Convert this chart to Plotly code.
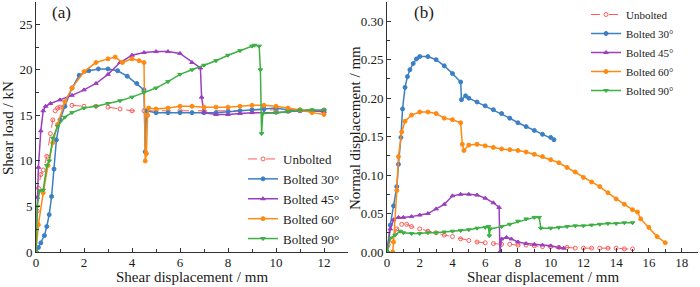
import plotly.graph_objects as go

# ---------------- Panel (a): shear load vs shear displacement ----------------
a_unb_x = [0, 0.05, 0.1, 0.2, 0.3, 0.45, 0.6, 0.7, 0.8, 0.9, 1.0, 1.2, 1.5, 2.0, 2.5, 3.0, 3.5, 4.0, 4.5, 5.0, 6.0, 7.0, 8.0, 9.0, 10.0, 11.0, 12.0]
a_unb_y = [0, 4.5, 7.0, 8.5, 9.0, 10.5, 13.0, 14.5, 15.5, 15.8, 15.9, 16.0, 16.1, 16.0, 16.0, 15.9, 15.7, 15.5, 15.5, 15.5, 15.5, 15.5, 15.5, 15.6, 15.6, 15.6, 15.6]

a_b30_x = [0, 0.1, 0.2, 0.35, 0.45, 0.55, 0.65, 0.75, 0.85, 1.0, 1.2, 1.5, 1.8, 2.2, 2.6, 3.0, 3.4, 3.8, 4.2, 4.5, 4.55, 4.6, 5.0, 5.5, 6.0, 6.5, 7.0, 7.5, 8.0, 8.5, 9.0, 9.5, 10.0, 10.5, 11.0, 11.5, 12.0]
a_b30_y = [0, 0.5, 1.0, 1.8, 2.8, 4.1, 6.1, 9.1, 12.3, 14.5, 16.0, 18.0, 19.4, 19.9, 20.1, 20.1, 19.9, 19.3, 18.5, 17.8, 11.0, 15.5, 15.3, 15.3, 15.3, 15.3, 15.3, 15.3, 15.4, 15.5, 15.6, 15.7, 15.8, 15.6, 15.5, 15.5, 15.5]

a_b45_x = [0, 0.05, 0.1, 0.2, 0.3, 0.4, 0.6, 1.0, 1.5, 2.0, 2.5, 3.0, 3.5, 4.0, 4.5, 5.0, 5.5, 6.0, 6.5, 6.85, 6.9, 7.0, 7.5, 8.0, 8.5, 9.0, 9.5, 10.0, 10.5, 11.0, 11.5, 12.0]
a_b45_y = [0, 6.0, 9.3, 13.3, 15.5, 16.0, 16.3, 16.7, 17.2, 17.8, 18.5, 19.5, 20.8, 21.6, 21.9, 22.0, 22.0, 21.8, 20.8, 20.2, 17.0, 15.3, 15.1, 15.1, 15.2, 15.3, 15.3, 15.3, 15.4, 15.5, 15.5, 15.4]

a_b60_x = [0, 0.1, 0.3, 0.5, 0.7, 0.9, 1.2, 1.5, 2.0, 2.5, 3.0, 3.3, 3.6, 4.0, 4.3, 4.5, 4.55, 4.6, 4.65, 4.7, 5.0, 5.5, 6.0, 6.5, 7.0, 7.5, 8.0, 8.5, 9.0, 9.5, 10.0, 10.5, 11.0, 11.5, 12.0]
a_b60_y = [0, 3.0, 6.5, 9.5, 12.0, 14.0, 16.5, 18.0, 19.8, 20.8, 21.2, 21.4, 20.8, 21.2, 21.0, 20.8, 10.0, 10.8, 15.0, 15.8, 15.7, 15.8, 16.0, 16.0, 15.9, 15.9, 15.9, 16.0, 16.1, 16.1, 16.0, 15.8, 15.6, 15.3, 15.1]

a_b90_x = [0, 0.05, 0.15, 0.3, 0.45, 0.55, 0.7, 0.9, 1.2, 1.5, 2.0, 2.5, 3.0, 3.5, 4.0, 4.5, 5.0, 5.5, 6.0, 6.5, 7.0, 7.5, 8.0, 8.5, 9.0, 9.1, 9.3, 9.35, 9.4, 9.45, 10.0, 10.5, 11.0, 11.5, 12.0]
a_b90_y = [0, 5.0, 6.7, 6.8, 9.5, 10.0, 12.5, 13.8, 14.8, 15.3, 15.8, 16.0, 16.3, 16.6, 17.0, 17.5, 18.0, 18.7, 19.5, 20.0, 20.5, 21.0, 21.6, 22.1, 22.6, 22.7, 22.6, 20.0, 13.0, 15.2, 15.3, 15.4, 15.6, 15.6, 15.6]

# ---------------- Panel (b): normal displacement vs shear displacement ----------------
b_unb_x = [0, 0.3, 0.6, 0.9, 1.2, 1.5, 2.0, 2.5, 3.0, 3.5, 4.0, 4.5, 5.0, 5.5, 6.0, 6.5, 7.0, 7.5, 8.0, 8.5, 9.0, 9.5, 10.0, 10.5, 11.0, 11.5, 12.0, 12.5, 13.0, 13.5, 14.0, 14.5, 15.0]
b_unb_y = [0, 0.015, 0.030, 0.036, 0.036, 0.033, 0.030, 0.027, 0.025, 0.022, 0.020, 0.017, 0.015, 0.013, 0.012, 0.011, 0.010, 0.010, 0.009, 0.009, 0.008, 0.007, 0.007, 0.006, 0.006, 0.005, 0.005, 0.005, 0.005, 0.005, 0.005, 0.004, 0.004]

b_b30_x = [0, 0.2, 0.4, 0.6, 0.7, 0.85, 0.95, 1.1, 1.25, 1.4, 1.6, 1.8, 2.0, 2.5, 3.0, 3.5, 4.0, 4.5, 4.55, 4.8, 5.0, 5.5, 6.0, 6.5, 7.0, 7.5, 8.0, 8.5, 9.0, 9.5, 10.0, 10.2]
b_b30_y = [0, 0.035, 0.060, 0.085, 0.114, 0.149, 0.186, 0.214, 0.228, 0.237, 0.245, 0.251, 0.254, 0.254, 0.250, 0.242, 0.232, 0.221, 0.198, 0.203, 0.200, 0.195, 0.190, 0.185, 0.180, 0.174, 0.168, 0.163, 0.158, 0.153, 0.149, 0.146]

b_b45_x = [0, 0.2, 0.4, 0.7, 1.0, 1.5, 2.0, 2.5, 3.0, 3.5, 4.0, 4.5, 5.0, 5.5, 6.0, 6.5, 6.85, 6.9, 7.0, 7.3, 7.6, 8.0, 8.5, 9.0, 9.5, 10.0, 10.5, 10.8]
b_b45_y = [0, 0.030, 0.042, 0.045, 0.045, 0.046, 0.048, 0.050, 0.056, 0.062, 0.073, 0.075, 0.075, 0.074, 0.070, 0.064, 0.058, 0.0, 0.017, 0.019, 0.017, 0.013, 0.011, 0.010, 0.009, 0.008, 0.006, 0.005]

b_b60_x = [0.35, 0.4, 0.6, 0.7, 0.9, 1.1, 1.5, 2.0, 2.5, 3.0, 3.5, 4.0, 4.5, 4.6, 4.7, 5.0, 5.5, 6.0, 6.5, 7.0, 7.5, 8.0, 8.5, 9.0, 9.5, 10.0, 10.5, 11.0, 11.5, 12.0, 12.5, 13.0, 13.5, 14.0, 14.5, 15.0, 15.3, 15.5, 16.0, 16.5, 17.0]
b_b60_y = [0.0, 0.013, 0.080, 0.124, 0.156, 0.170, 0.178, 0.182, 0.182, 0.180, 0.174, 0.172, 0.168, 0.140, 0.132, 0.139, 0.140, 0.138, 0.136, 0.134, 0.133, 0.132, 0.130, 0.127, 0.124, 0.120, 0.116, 0.110, 0.104, 0.097, 0.091, 0.085, 0.077, 0.069, 0.062, 0.055, 0.052, 0.043, 0.032, 0.020, 0.012]

b_b90_x = [0, 0.2, 0.5, 0.8, 1.0, 1.5, 2.0, 2.5, 3.0, 3.5, 4.0, 4.5, 5.0, 5.5, 6.0, 6.2, 6.25, 6.3, 7.0, 7.5, 8.0, 8.5, 9.0, 9.3, 9.4, 10.0, 10.5, 11.0, 11.5, 12.0, 12.5, 13.0, 13.5, 14.0, 14.5, 15.0]
b_b90_y = [0, 0.018, 0.022, 0.027, 0.025, 0.024, 0.024, 0.025, 0.025, 0.026, 0.027, 0.028, 0.029, 0.031, 0.032, 0.033, 0.021, 0.030, 0.033, 0.036, 0.040, 0.043, 0.045, 0.045, 0.031, 0.031, 0.032, 0.033, 0.034, 0.034, 0.035, 0.036, 0.037, 0.037, 0.038, 0.038]

names = ["Unbolted", "Bolted 30°", "Bolted 45°", "Bolted 60°", "Bolted 90°"]
colors = ["#ff5a5a", "#3b7fc4", "#9b3fbf", "#ff8a12", "#3cb043"]
symbols = ["circle-open", "circle", "triangle-up", "circle", "triangle-down"]
dashes = ["dash", "solid", "solid", "solid", "solid"]

a_series = [(a_unb_x, a_unb_y), (a_b30_x, a_b30_y), (a_b45_x, a_b45_y), (a_b60_x, a_b60_y), (a_b90_x, a_b90_y)]
b_series = [(b_unb_x, b_unb_y), (b_b30_x, b_b30_y), (b_b45_x, b_b45_y), (b_b60_x, b_b60_y), (b_b90_x, b_b90_y)]

FONT = "Liberation Serif"
TXT = "#1a1a1a"

fig = go.Figure()
for i, (x, y) in enumerate(a_series):
    fig.add_trace(go.Scatter(
        x=x, y=y, name=names[i], mode="lines+markers",
        line=dict(color=colors[i], width=1.5 if i else 1.0, dash=dashes[i]),
        marker=dict(symbol=symbols[i], size=4, color=colors[i],
                    line=dict(width=1, color=colors[i])),
        xaxis="x", yaxis="y", legend="legend"))
for i, (x, y) in enumerate(b_series):
    fig.add_trace(go.Scatter(
        x=x, y=y, name=names[i], mode="lines+markers",
        line=dict(color=colors[i], width=1.5 if i else 1.0, dash=dashes[i]),
        marker=dict(symbol=symbols[i], size=4, color=colors[i],
                    line=dict(width=1, color=colors[i])),
        xaxis="x2", yaxis="y2", legend="legend2"))

W, H = 700, 287
def px(v):
    return v / W
def py(v):
    return (H - v) / H

axis_common = dict(
    showline=True, linecolor="#333", linewidth=1, showgrid=False, zeroline=False,
    ticks="inside", ticklen=4, tickwidth=1, tickcolor="#333", automargin=False,
    tickfont=dict(family=FONT, size=13, color=TXT),
)
xtick_extra = dict(ticklabelstandoff=-2)

fig.update_layout(
    width=W, height=H,
    margin=dict(l=0, r=0, t=0, b=0, pad=0, autoexpand=False),
    paper_bgcolor="white", plot_bgcolor="white",
    font=dict(family=FONT, color=TXT),
    xaxis=dict(domain=[px(36), px(348)], range=[0, 13], dtick=2, anchor="y",
               minor=dict(ticks="inside", ticklen=3, dtick=1, tickcolor="#333"),
               **xtick_extra, **axis_common),
    yaxis=dict(domain=[py(252), py(1.5)], range=[0, 27.5], dtick=5, anchor="x",
               minor=dict(ticks="inside", ticklen=3, dtick=2.5, tickcolor="#333"), **axis_common),
    xaxis2=dict(domain=[px(387), px(698)], range=[0, 19], dtick=2, anchor="y2",
                minor=dict(ticks="inside", ticklen=3, dtick=1, tickcolor="#333"),
                **xtick_extra, **axis_common),
    yaxis2=dict(domain=[py(252), py(2)], range=[0, 0.325], dtick=0.05, tickformat=".2f", anchor="x2",
                minor=dict(ticks="inside", ticklen=3, dtick=0.025, tickcolor="#333"), **axis_common),
    legend=dict(x=px(243), y=py(144), xanchor="left", yanchor="top",
                bgcolor="rgba(0,0,0,0)", font=dict(family=FONT, size=13, color=TXT),
                itemwidth=30, tracegroupgap=0),
    legend2=dict(x=px(586), y=py(0), xanchor="left", yanchor="top",
                 bgcolor="rgba(0,0,0,0)", font=dict(family=FONT, size=11, color=TXT),
                 itemwidth=30, tracegroupgap=0),
    showlegend=True,
)

def ann(text, x, y, size, angle=0):
    return dict(text=text, x=px(x), y=py(y), xref="paper", yref="paper",
                xanchor="center", yanchor="middle", textangle=angle, showarrow=False,
                font=dict(family=FONT, size=size, color=TXT))

annotations = [
    ann("Shear displacement / mm", 192, 277, 15),
    ann("Shear displacement / mm", 543, 277, 15),
    ann("Shear load / kN", 8, 128, 15, -90),
    ann("Normal displacement / mm", 355, 128, 15, -90),
    ann("(a)", 61, 13, 17),
    ann("(b)", 424, 13, 17),
]
fig.update_layout(annotations=annotations)

fig.write_html("out.html")
